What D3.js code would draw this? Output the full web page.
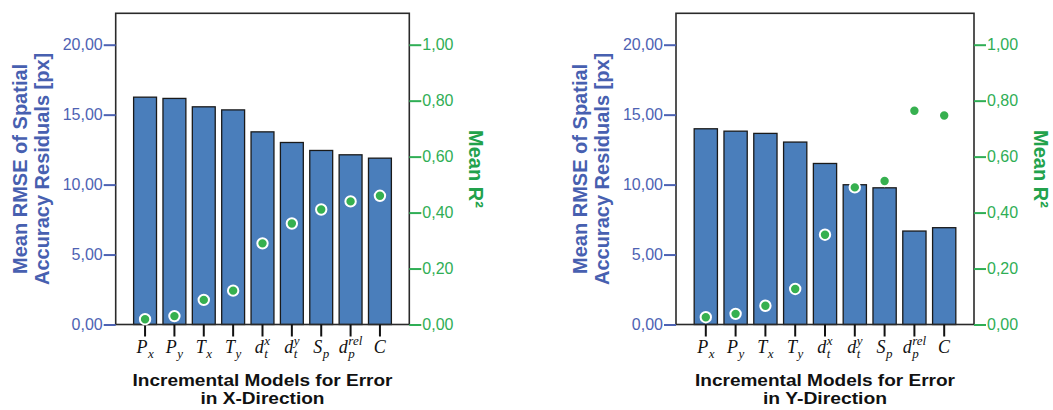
<!DOCTYPE html>
<html>
<head>
<meta charset="utf-8">
<script src="https://cdn.jsdelivr.net/npm/d3@7"></script>
<style>
body { margin: 0; background: #fff; }
svg { display: block; }
</style>
</head>
<body>
<svg id="chart" width="1053" height="410"></svg>
<script>
// model names (x categories)
var models = ["Px","Py","Tx","Ty","dtx","dty","Sp","dprel","C"];
// tick label pieces: base letter, subscript, superscript
var tickBase = ["P","P","T","T","d","d","S","d","C"];
var tickSub  = ["x","y","x","y","t","t","p","p",""];
var tickSup  = ["","","","","x","y","","rel",""];

// X-direction panel
var rmseX = [16.25,16.16,15.56,15.34,13.77,13.01,12.44,12.13,11.89];
var r2X   = [0.019,0.030,0.088,0.121,0.290,0.361,0.411,0.440,0.460];
// Y-direction panel
var rmseY = [13.99,13.82,13.66,13.04,11.51,9.99,9.77,6.68,6.92];
var r2Y   = [0.026,0.038,0.067,0.127,0.321,0.490,0.513,0.764,0.747];

var rmseTicks = [0,5,10,15,20];
var r2Ticks = [0,0.2,0.4,0.6,0.8,1.0];

var fmt = function(v){ return d3.format(".2f")(v).replace(".", ","); };

var svg = d3.select("#chart");
var top_ = 13.3, bottom = 324.5;

function render_panel(left, right, rmse, r2, dirLabel)
{
	var x = d3.scalePoint().domain(models).range([left, right]).padding(1);
	var step = x.step();
	var yL = d3.scaleLinear().domain([0, 20]).range([bottom, 44.7]);
	var yR = d3.scaleLinear().domain([0, 1]).range([bottom, 44.7]);

	var g = svg.append("g");

	// bars
	g.append("g").selectAll("rect")
		.data(rmse)
		.enter()
		.append("rect")
		.attr("x", function(d,i){ return x(models[i]) - step*0.39; })
		.attr("y", function(d){ return yL(d); })
		.attr("width", step*0.78)
		.attr("height", function(d){ return bottom - yL(d); })
		.style("fill", "#4a7ebb")
		.style("stroke", "#1a1a1a")
		.style("stroke-width", 1.3);

	// frame
	g.append("rect")
		.attr("x", left).attr("y", top_)
		.attr("width", right-left).attr("height", bottom-top_)
		.style("fill", "none")
		.style("stroke", "#2a2a2a")
		.style("stroke-width", 1.6);

	// left axis (RMSE)
	var axL = d3.axisLeft(yL).tickValues(rmseTicks).tickFormat(fmt).tickSize(12).tickPadding(1);
	var gl = g.append("g").attr("transform", "translate(" + left + ",0)").call(axL);
	gl.select(".domain").remove();
	gl.selectAll("line").style("stroke", "#4d62b3").style("stroke-width", 2);
	gl.selectAll("text").style("fill", "#4d62b3").style("font-family", "Liberation Sans, Arial, sans-serif").style("font-size", "16px");

	// right axis (R²)
	var axR = d3.axisRight(yR).tickValues(r2Ticks).tickFormat(fmt).tickSize(12).tickPadding(1);
	var gr = g.append("g").attr("transform", "translate(" + right + ",0)").call(axR);
	gr.select(".domain").remove();
	gr.selectAll("line").style("stroke", "#2fae55").style("stroke-width", 2);
	gr.selectAll("text").style("fill", "#2fae55").style("font-family", "Liberation Sans, Arial, sans-serif").style("font-size", "16px");

	// x ticks
	g.append("g").selectAll("line")
		.data(models)
		.enter()
		.append("line")
		.attr("x1", function(d){ return x(d); })
		.attr("x2", function(d){ return x(d); })
		.attr("y1", bottom)
		.attr("y2", bottom + 12)
		.style("stroke", "#111")
		.style("stroke-width", 2);

	// x tick labels, math style
	models.forEach(function(m, i){
		var t = g.append("g");
		var base = t.append("text")
			.attr("x", 0).attr("y", 353)
			.style("font-family", "Liberation Serif, DejaVu Serif, serif")
			.style("font-style", "italic")
			.style("font-size", "18px")
			.style("fill", "#111")
			.text(tickBase[i]);
		var w0 = base.node().getComputedTextLength();
		var w1 = 0, w2 = 0;
		if (tickSub[i]) {
			var s = t.append("text")
				.attr("x", w0 + 0.5).attr("y", 358)
				.style("font-family", "Liberation Serif, DejaVu Serif, serif")
				.style("font-style", "italic")
				.style("font-size", "13px")
				.style("fill", "#111")
				.text(tickSub[i]);
			w1 = s.node().getComputedTextLength();
		}
		if (tickSup[i]) {
			var p = t.append("text")
				.attr("x", w0 + 0.5).attr("y", 345)
				.style("font-family", "Liberation Serif, DejaVu Serif, serif")
				.style("font-style", "italic")
				.style("font-size", "13px")
				.style("fill", "#111")
				.text(tickSup[i]);
			w2 = p.node().getComputedTextLength();
		}
		var total = w0 + 0.5 + Math.max(w1, w2);
		t.attr("transform", "translate(" + (x(m) - total/2) + ",0)");
	});

	// R² points
	g.append("g").selectAll("circle")
		.data(r2)
		.enter()
		.append("circle")
		.attr("cx", function(d,i){ return x(models[i]); })
		.attr("cy", function(d){ return yR(d); })
		.attr("r", 5.2)
		.style("fill", "#36b04f")
		.style("stroke", "#fff")
		.style("stroke-width", 2);

	// left axis title
	var cy = (top_ + bottom) / 2;
	g.append("text")
		.attr("transform", "translate(" + (left - 89) + "," + cy + ") rotate(-90)")
		.attr("text-anchor", "middle")
		.style("font-family", "Liberation Sans, Arial, sans-serif")
		.style("font-weight", "bold")
		.style("font-size", "20px")
		.style("fill", "#4760b0")
		.text("Mean RMSE of Spatial");
	g.append("text")
		.attr("transform", "translate(" + (left - 67) + "," + cy + ") rotate(-90)")
		.attr("text-anchor", "middle")
		.style("font-family", "Liberation Sans, Arial, sans-serif")
		.style("font-weight", "bold")
		.style("font-size", "20px")
		.style("fill", "#4760b0")
		.text("Accuracy Residuals [px]");

	// right axis title
	g.append("text")
		.attr("transform", "translate(" + (right + 60) + "," + cy + ") rotate(90)")
		.attr("text-anchor", "middle")
		.style("font-family", "Liberation Sans, Arial, sans-serif")
		.style("font-weight", "bold")
		.style("font-size", "20px")
		.style("fill", "#22a24c")
		.text("Mean R²");

	// x axis title (two lines)
	var cx = (left + right) / 2;
	g.append("text")
		.attr("x", cx).attr("y", 386)
		.attr("text-anchor", "middle")
		.attr("textLength", 260)
		.attr("lengthAdjust", "spacingAndGlyphs")
		.style("font-family", "Liberation Sans, Arial, sans-serif")
		.style("font-weight", "bold")
		.style("font-size", "17px")
		.style("fill", "#111")
		.text("Incremental Models for Error");
	g.append("text")
		.attr("x", cx).attr("y", 404)
		.attr("text-anchor", "middle")
		.attr("textLength", 124)
		.attr("lengthAdjust", "spacingAndGlyphs")
		.style("font-family", "Liberation Sans, Arial, sans-serif")
		.style("font-weight", "bold")
		.style("font-size", "17px")
		.style("fill", "#111")
		.text("in " + dirLabel + "-Direction");
}

render_panel(115.7, 409.3, rmseX, r2X, "X");
render_panel(676, 974, rmseY, r2Y, "Y");
</script>
</body>
</html>
